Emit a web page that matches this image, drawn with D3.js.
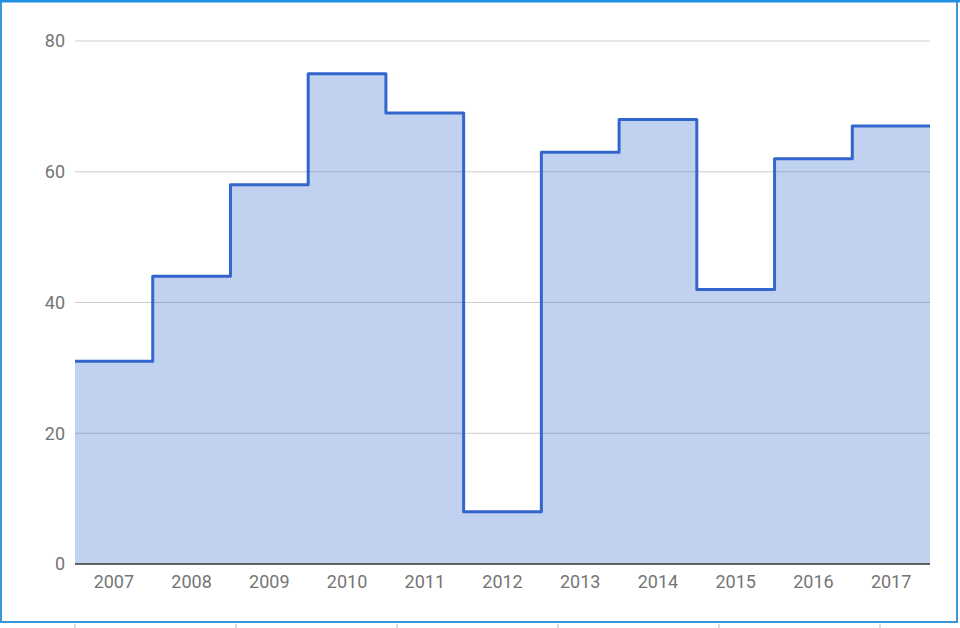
<!DOCTYPE html>
<html><head><meta charset="utf-8">
<script src="https://cdn.jsdelivr.net/npm/d3@7"></script>
<style>html,body{margin:0;padding:0;background:#fff;}svg{display:block;font-family:Roboto,"Noto Sans",sans-serif;}</style>
</head><body>
<svg id="c" width="960" height="628"></svg>
<script>
const years = ["2007","2008","2009","2010","2011","2012","2013","2014","2015","2016","2017"];
const values = [31,44,58,75,69,8,63,68,42,62,67];
const yTicks = [0,20,40,60,80];

(function(){
const svg = d3.select("#c");
const W = 960, H = 628;
const mLeft = 75, mRight = 930, mTop = 41, mBottom = 564;

const x = d3.scaleBand().domain(years).range([mLeft, mRight]).padding(0);
const y = d3.scaleLinear().domain([0, 80]).range([mBottom, mTop]);

svg.append("rect").attr("x",0).attr("y",0).attr("width",W).attr("height",H).attr("fill","#fff");
// gridlines
svg.append("g").selectAll("line").data(yTicks.filter(d=>d>0)).join("line")
  .attr("x1", mLeft).attr("x2", mRight)
  .attr("y1", d=>y(d)).attr("y2", d=>y(d))
  .attr("stroke","#cccccc").attr("stroke-width",1);

// step data
const pts = years.map((yr,i)=>({x:x(yr), v:values[i]}));
pts.push({x: mRight, v: values[values.length-1]});

const area = d3.area().x(d=>d.x).y0(y(0)).y1(d=>y(d.v)).curve(d3.curveStepAfter);
const line = d3.line().x(d=>d.x).y(d=>y(d.v)).curve(d3.curveStepAfter);

svg.append("path").datum(pts).attr("d", area).attr("fill","#3366cc").attr("fill-opacity",0.3);
svg.append("path").datum(pts).attr("d", line).attr("fill","none")
  .attr("stroke","#3366cc").attr("stroke-width",3).attr("stroke-linejoin","round");

// baseline
svg.append("line").attr("x1",mLeft).attr("x2",mRight).attr("y1",y(0)).attr("y2",y(0))
  .attr("stroke","#333").attr("stroke-width",1.5);

// y labels
svg.append("g").selectAll("text").data(yTicks).join("text")
  .attr("x", mLeft-10).attr("y", d=>y(d)).attr("dy","0.35em")
  .attr("text-anchor","end").attr("font-size",18).attr("fill","#757575")
  .text(d=>d);

// x labels
svg.append("g").selectAll("text").data(years).join("text")
  .attr("x", d=>x(d)+x.bandwidth()/2).attr("y", 582).attr("dy","0.35em")
  .attr("text-anchor","middle").attr("font-size",18).attr("fill","#757575")
  .text(d=>d);

// border
svg.append("rect").attr("x",1).attr("y",1).attr("width",956).attr("height",621)
  .attr("fill","none").attr("stroke","#3a96d4").attr("stroke-width",2);
svg.append("line").attr("x1",0).attr("x2",960).attr("y1",1).attr("y2",1).attr("stroke","#1e90e0").attr("stroke-width",3);
// small marks under frame
svg.append("g").selectAll("line").data(d3.range(6)).join("line")
  .attr("x1", i=>75+i*161).attr("x2", i=>75+i*161).attr("y1",624).attr("y2",628)
  .attr("stroke","#bbb").attr("stroke-width",1);
})();
</script>
</body></html>
